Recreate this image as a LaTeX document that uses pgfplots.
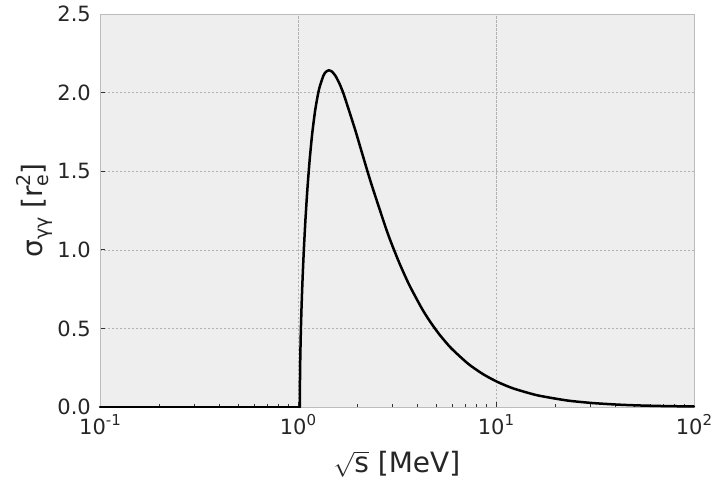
\documentclass[border=0pt]{standalone}
\usepackage{fontspec}
\setmainfont{DejaVu Sans}
\usepackage{pgfplots}
\pgfplotsset{compat=1.18}
\definecolor{bgc}{HTML}{EEEEEE}
\definecolor{spine}{HTML}{BCBCBC}
\definecolor{gridc}{HTML}{B2B2B2}
\definecolor{tickc}{HTML}{333333}
\definecolor{txt}{HTML}{262626}
\newcommand{\subsc}[1]{\raisebox{-0.24em}{\fontsize{19bp}{19bp}\selectfont #1}}
\newcommand{\supsc}[1]{\raisebox{0.42em}{\fontsize{19bp}{19bp}\selectfont #1}}
\newcommand{\tsup}[1]{\raisebox{0.42em}{\fontsize{15bp}{15bp}\selectfont #1}}
\begin{document}
\begin{tikzpicture}[x=1bp,y=1bp]
\begin{axis}[
  at={(0,0)}, anchor=south west,
  width=594bp, height=393bp, scale only axis,
  xmode=log, log basis x=10,
  xmin=0.1, xmax=100, ymin=0, ymax=2.5,
  clip=false,
  axis background/.style={fill=bgc},
  axis line style={spine, line width=0.9bp},
  xtick={0.1,1,10,100},
  xticklabels={10\tsup{-1},10\tsup{0},10\tsup{1},10\tsup{2}},
  minor xtick={0.2,0.3,0.4,0.5,0.6,0.7,0.8,0.9,2,3,4,5,6,7,8,9,20,30,40,50,60,70,80,90},
  ytick={0,0.5,1,1.5,2,2.5},
  yticklabels={0.0,0.5,1.0,1.5,2.0,2.5},
  tick align=inside,
  tick pos=left,
  major tick length=5bp, minor tick length=3bp,
  tick style={tickc, line width=0.9bp},
  xmajorgrids, ymajorgrids,
  major grid style={gridc, dash pattern=on 2.5bp off 1.5bp, line width=0.6bp},
  ticklabel style={font=\fontsize{21bp}{25bp}\selectfont, text=txt},
  xticklabel style={anchor=base, yshift=-27bp},
  yticklabel style={anchor=east, inner xsep=0pt, xshift=-9bp},
  xlabel={$\sqrt{\mbox{s}}$ [MeV]},
  ylabel={σ\subsc{γγ} [r\rlap{\supsc{2}}\subsc{e}]},
  label style={font=\fontsize{28bp}{32bp}\selectfont, text=txt},
  xlabel style={at={(axis description cs:0.5,-0.1679)}, anchor=base},
  ylabel style={at={(axis description cs:-0.0976,0.5)}, anchor=base},
]
\addplot[black, line width=2.5bp, line cap=round] coordinates {
(0.1,0) (1.0220,0)
};
\addplot[black, line width=2.5bp, line join=round, line cap=round, smooth, tension=0.4] coordinates {
(1.0220,0) (1.02205,0.0314) (1.02232,0.0785) (1.02328,0.1575)
(1.02715,0.3172) (1.03369,0.4813) (1.04307,0.6511) (1.05552,0.8272)
(1.07135,1.0093) (1.09101,1.1957) (1.11509,1.3831) (1.14442,1.5668)
(1.18010,1.7403) (1.22371,1.8953) (1.2775,2.0219) (1.34485,2.1084)
(1.38517,2.1326) (1.43109,2.1416) (1.48385,2.1337) (1.54512,2.1069)
(1.61719,2.0591) (1.70333,1.9881) (1.94008,1.7670) (2.11103,1.6113)
(2.34463,1.4205) (2.78050,1.1370) (2.99554,1.0267) (3.27302,0.9069) (3.65,0.7758)
(4.20394,0.6308) (4.59936,0.5517) (5.13574,0.4671) (5.92278,0.3755) (7.24477,0.2743)
(8.6527,0.2070) (10.2328,0.1581) (12.264,0.1176) (16.1673,0.0745) (22.8583,0.0415)
(30.66,0.0253) (40.88,0.0154) (51.1,0.0104) (66.43,0.0066) (100,0.0032)
};
\end{axis}
\pgfresetboundingbox
\path[use as bounding box] (-100bp,-77bp) rectangle (614bp,407bp);
\end{tikzpicture}
\end{document}
